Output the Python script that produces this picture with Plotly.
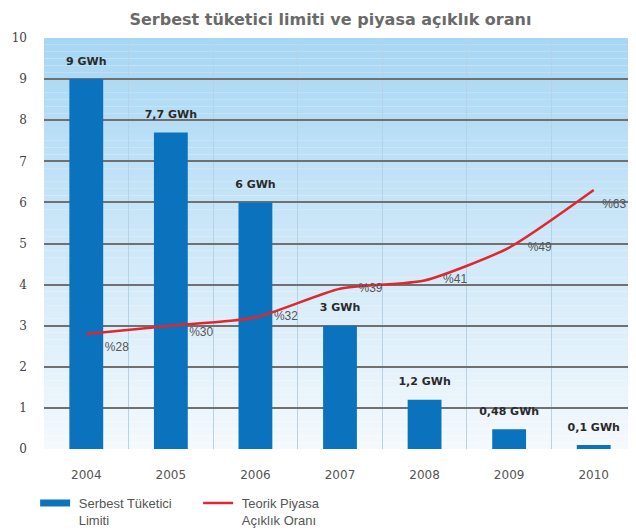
import plotly.graph_objects as go

years = ["2004", "2005", "2006", "2007", "2008", "2009", "2010"]
limit_gwh = [9, 7.7, 6, 3, 1.2, 0.48, 0.1]
limit_labels = ["9 GWh", "7,7 GWh", "6 GWh", "3 GWh", "1,2 GWh", "0,48 GWh", "0,1 GWh"]
openness_pct = [28, 30, 32, 39, 41, 49, 63]
openness_labels = ["%28", "%30", "%32", "%39", "%41", "%49", "%63"]
y_ticks = [0, 1, 2, 3, 4, 5, 6, 7, 8, 9, 10]

BLUE = "#0b73bd"
RED = "#e0262e"
NB = "\u00a0"

fig = go.Figure()

# gradient background
n = 60
top = (168, 215, 244)
bot = (244, 249, 253)
for i in range(n):
    t = i / (n - 1)
    c = tuple(int(top[k] + (bot[k] - top[k]) * t) for k in range(3))
    fig.add_shape(type="rect", xref="paper", yref="paper",
                  x0=0, x1=1, y0=1 - (i + 1) / n, y1=1 - i / n,
                  fillcolor="rgb(%d,%d,%d)" % c, line=dict(width=0), layer="below")

fig.add_trace(go.Bar(
    x=years, y=limit_gwh, name="Serbest Tüketici<br>Limiti", showlegend=False,
    marker=dict(color=BLUE, line=dict(width=0)), width=0.4,
    hoverinfo="skip",
))

# bar value labels (transparent markers set the offset above the bar top)
fig.add_trace(go.Scatter(
    x=years, y=limit_gwh, mode="markers+text", showlegend=False,
    marker=dict(size=17, color="rgba(0,0,0,0)", line=dict(width=0)),
    text=limit_labels, textposition="top center",
    textfont=dict(family="DejaVu Sans", size=11, color="#2a2a2a", weight="bold"),
    cliponaxis=False, hoverinfo="skip",
))

fig.add_trace(go.Scatter(
    x=years, y=openness_pct, name="Teorik Piyasa<br>Açıklık Oranı", yaxis="y2",
    mode="lines", showlegend=False,
    line=dict(color=RED, width=2.5, shape="spline", smoothing=0.6),
))

# percentage labels
pads = [3, 5, 3, 3, 3, 3, 0]
label_marker = [12, 1, 12, 12, 12, 12, 12]
fig.add_trace(go.Scatter(
    x=years, y=openness_pct, yaxis="y2", mode="markers+text", showlegend=False,
    marker=dict(size=label_marker, color="rgba(0,0,0,0)",
                line=dict(width=0, color="rgba(0,0,0,0)")),
    text=[NB * p + s for p, s in zip(pads, openness_labels)],
    textposition=["bottom right", "bottom right", "middle right", "middle right",
                  "middle right", "middle right", "bottom right"],
    textfont=dict(family="Liberation Sans", size=12, color="#555555"),
    cliponaxis=False, hoverinfo="skip",
))

# legend entries
fig.add_trace(go.Scatter(x=[None], y=[None], mode="lines",
                         name=NB + "Serbest Tüketici<br>" + NB + "Limiti",
                         line=dict(color=BLUE, width=7)))
fig.add_trace(go.Scatter(x=[None], y=[None], mode="lines",
                         name=NB + "Teorik Piyasa<br>" + NB + "Açıklık Oranı",
                         line=dict(color=RED, width=2.5)))

fig.update_layout(
    width=636, height=532,
    margin=dict(l=36, r=8, t=30, b=91, autoexpand=False),
    paper_bgcolor="white", plot_bgcolor="rgba(0,0,0,0)",
    title=dict(text="<b>Serbest tüketici limiti ve piyasa açıklık oranı</b>",
               x=0.507, xanchor="center", y=0.99, yanchor="top",
               font=dict(family="DejaVu Sans", size=16, color="#6a6a6a")),
    showlegend=True,
    legend=dict(orientation="h", x=-0.015, y=-0.095, xanchor="left", yanchor="top",
                valign="top",
                font=dict(family="Liberation Sans", size=13, color="#555555"),
                bgcolor="rgba(0,0,0,0)", itemwidth=30,
                entrywidth=118, entrywidthmode="pixels"),
    xaxis=dict(range=[-0.5, 6.5], tickson="boundaries", showgrid=True,
               gridcolor="#b5d3e6", gridwidth=1, ticks="", showline=False,
               ticklabelstandoff=17, automargin=False,
               tickfont=dict(family="DejaVu Sans", size=12, color="#555555")),
    yaxis=dict(range=[0, 10], tickvals=y_ticks, showgrid=True,
               gridcolor="#707070", gridwidth=1.5, zeroline=False,
               ticks="", ticklabelstandoff=16, automargin=False,
               tickfont=dict(family="DejaVu Serif", size=12, color="#444444")),
    yaxis2=dict(range=[0, 100], overlaying="y", side="right", showgrid=False,
                zeroline=False, showline=False, showticklabels=False, ticks="",
                automargin=False),
    bargap=0.6,
)

fig.write_html("out.html")
